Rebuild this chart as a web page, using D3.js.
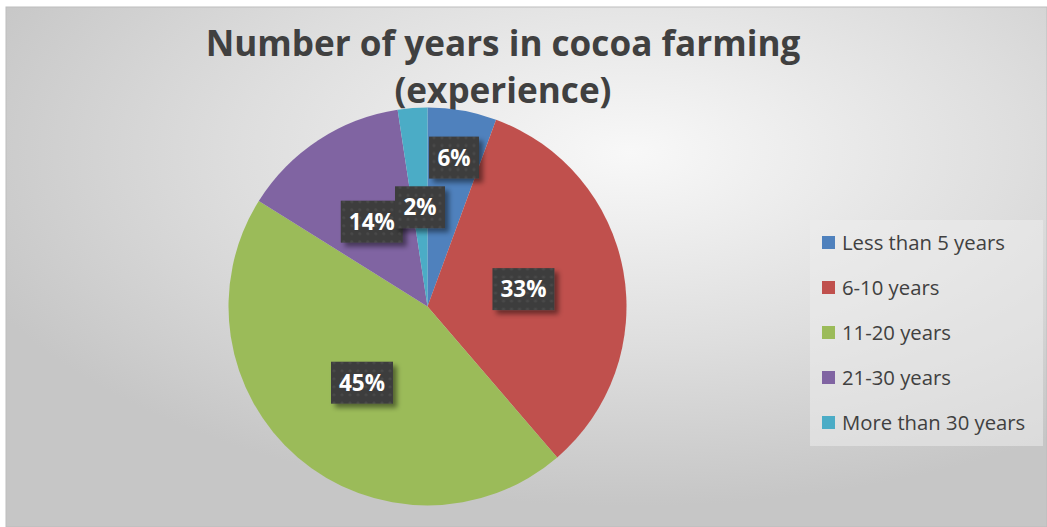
<!DOCTYPE html>
<html>
<head>
<meta charset="utf-8">
<script src="https://cdn.jsdelivr.net/npm/d3@7"></script>
<style>
  body { margin: 0; background: #fff; }
  svg { display: block; }
</style>
</head>
<body>
<div id="chart"></div>
<script>
const width = 1047;
const height = 527;

// data
const categories = ["Less than 5 years", "6-10 years", "11-20 years", "21-30 years", "More than 30 years"];
const shares = [5.6, 33.1, 45.2, 13.7, 2.4];
const labels = ["6%", "33%", "45%", "14%", "2%"];
const colors = ["#4f81bd", "#c0504d", "#9bbb59", "#8064a2", "#4bacc6"];

const svg = d3.select("#chart")
    .append("svg")
    .attr("width", width)
    .attr("height", height);

const defs = svg.append("defs");

// soft grey background, lighter towards upper middle
const bg = defs.append("radialGradient")
    .attr("id", "bg")
    .attr("cx", "60%").attr("cy", "28%").attr("r", "68%");
bg.append("stop").attr("offset", "0%").attr("stop-color", "#f8f8f8");
bg.append("stop").attr("offset", "55%").attr("stop-color", "#dedede");
bg.append("stop").attr("offset", "100%").attr("stop-color", "#c6c6c6");

const shadow = defs.append("filter").attr("id", "shadow")
    .attr("x", "-20%").attr("y", "-20%").attr("width", "160%").attr("height", "160%");
shadow.append("feDropShadow")
    .attr("dx", 4).attr("dy", 4).attr("stdDeviation", 2.5)
    .attr("flood-color", "#000").attr("flood-opacity", 0.45);

const dots = defs.append("pattern").attr("id", "dots")
    .attr("width", 8).attr("height", 8).attr("patternUnits", "userSpaceOnUse");
dots.append("rect").attr("width", 8).attr("height", 8).attr("fill", "#3d3d3d");
dots.append("circle").attr("cx", 4).attr("cy", 4).attr("r", 1.6).attr("fill", "#494949");

// chart area
svg.append("rect")
    .attr("x", 6).attr("y", 7)
    .attr("width", width - 6).attr("height", height - 7)
    .attr("fill", "url(#bg)")
    .attr("stroke", "#bdbdbd");

// title
const titleLines = ["Number of years in cocoa farming", "(experience)"];
const title = svg.append("g")
    .attr("font-family", "'Open Sans', sans-serif")
    .attr("font-weight", "bold")
    .attr("fill", "#404040")
    .attr("text-anchor", "middle");
title.selectAll("text")
    .data(titleLines)
    .enter()
    .append("text")
    .attr("x", 503)
    .attr("y", (d, i) => 56 + i * 47)
    .attr("font-size", 32)
    .text(d => d);
// fit first line to the reference width
const t0 = title.select("text").node();
const fs = 32 * 595 / t0.getComputedTextLength();
title.selectAll("text").attr("font-size", Math.min(fs, 36));

// pie
const cx = 427.5, cy = 306.5, radius = 199;
const pie = d3.pie().sort(null).value(d => d)(shares);
const arc = d3.arc().innerRadius(0).outerRadius(radius);

const g = svg.append("g").attr("transform", `translate(${cx},${cy})`);
g.selectAll("path")
    .data(pie)
    .enter()
    .append("path")
    .attr("d", arc)
    .attr("fill", (d, i) => colors[i]);

// data labels, the small first slice label is pushed outward
const labelRadius = [0.76, 0.49, 0.505, 0.51, 0.5];
const lab = g.selectAll(".lab")
    .data(pie)
    .enter()
    .append("g")
    .attr("class", "lab")
    .attr("transform", (d, i) => {
        const r = radius * labelRadius[i];
        const c = d3.arc().innerRadius(r).outerRadius(r).centroid(d);
        return `translate(${c[0]},${c[1]})`;
    });

lab.append("rect")
    .attr("x", (d, i) => labels[i].length > 2 ? -31 : -25)
    .attr("y", -21)
    .attr("width", (d, i) => labels[i].length > 2 ? 62 : 50)
    .attr("height", 42)
    .attr("fill", "url(#dots)")
    .attr("filter", "url(#shadow)");

lab.append("text")
    .attr("text-anchor", "middle")
    .attr("dy", "0.36em")
    .attr("font-family", "'Open Sans', sans-serif")
    .attr("font-weight", "bold")
    .attr("font-size", 22.5)
    .attr("fill", "#fff")
    .text((d, i) => labels[i]);

// legend
svg.append("rect")
    .attr("x", 810).attr("y", 220)
    .attr("width", 233).attr("height", 226)
    .attr("fill", "#ececec").attr("opacity", 0.55);

const legend = svg.selectAll(".legend")
    .data(categories)
    .enter()
    .append("g")
    .attr("class", "legend")
    .attr("transform", (d, i) => `translate(822, ${243 + i * 45})`);

legend.append("rect")
    .attr("x", 0).attr("y", -7)
    .attr("width", 13).attr("height", 13)
    .attr("fill", (d, i) => colors[i]);

legend.append("text")
    .attr("x", 20)
    .attr("y", 0)
    .attr("dy", "0.35em")
    .attr("font-family", "'Open Sans', sans-serif")
    .attr("font-size", 20.3)
    .attr("fill", "#404040")
    .text(d => d);
</script>
</body>
</html>
